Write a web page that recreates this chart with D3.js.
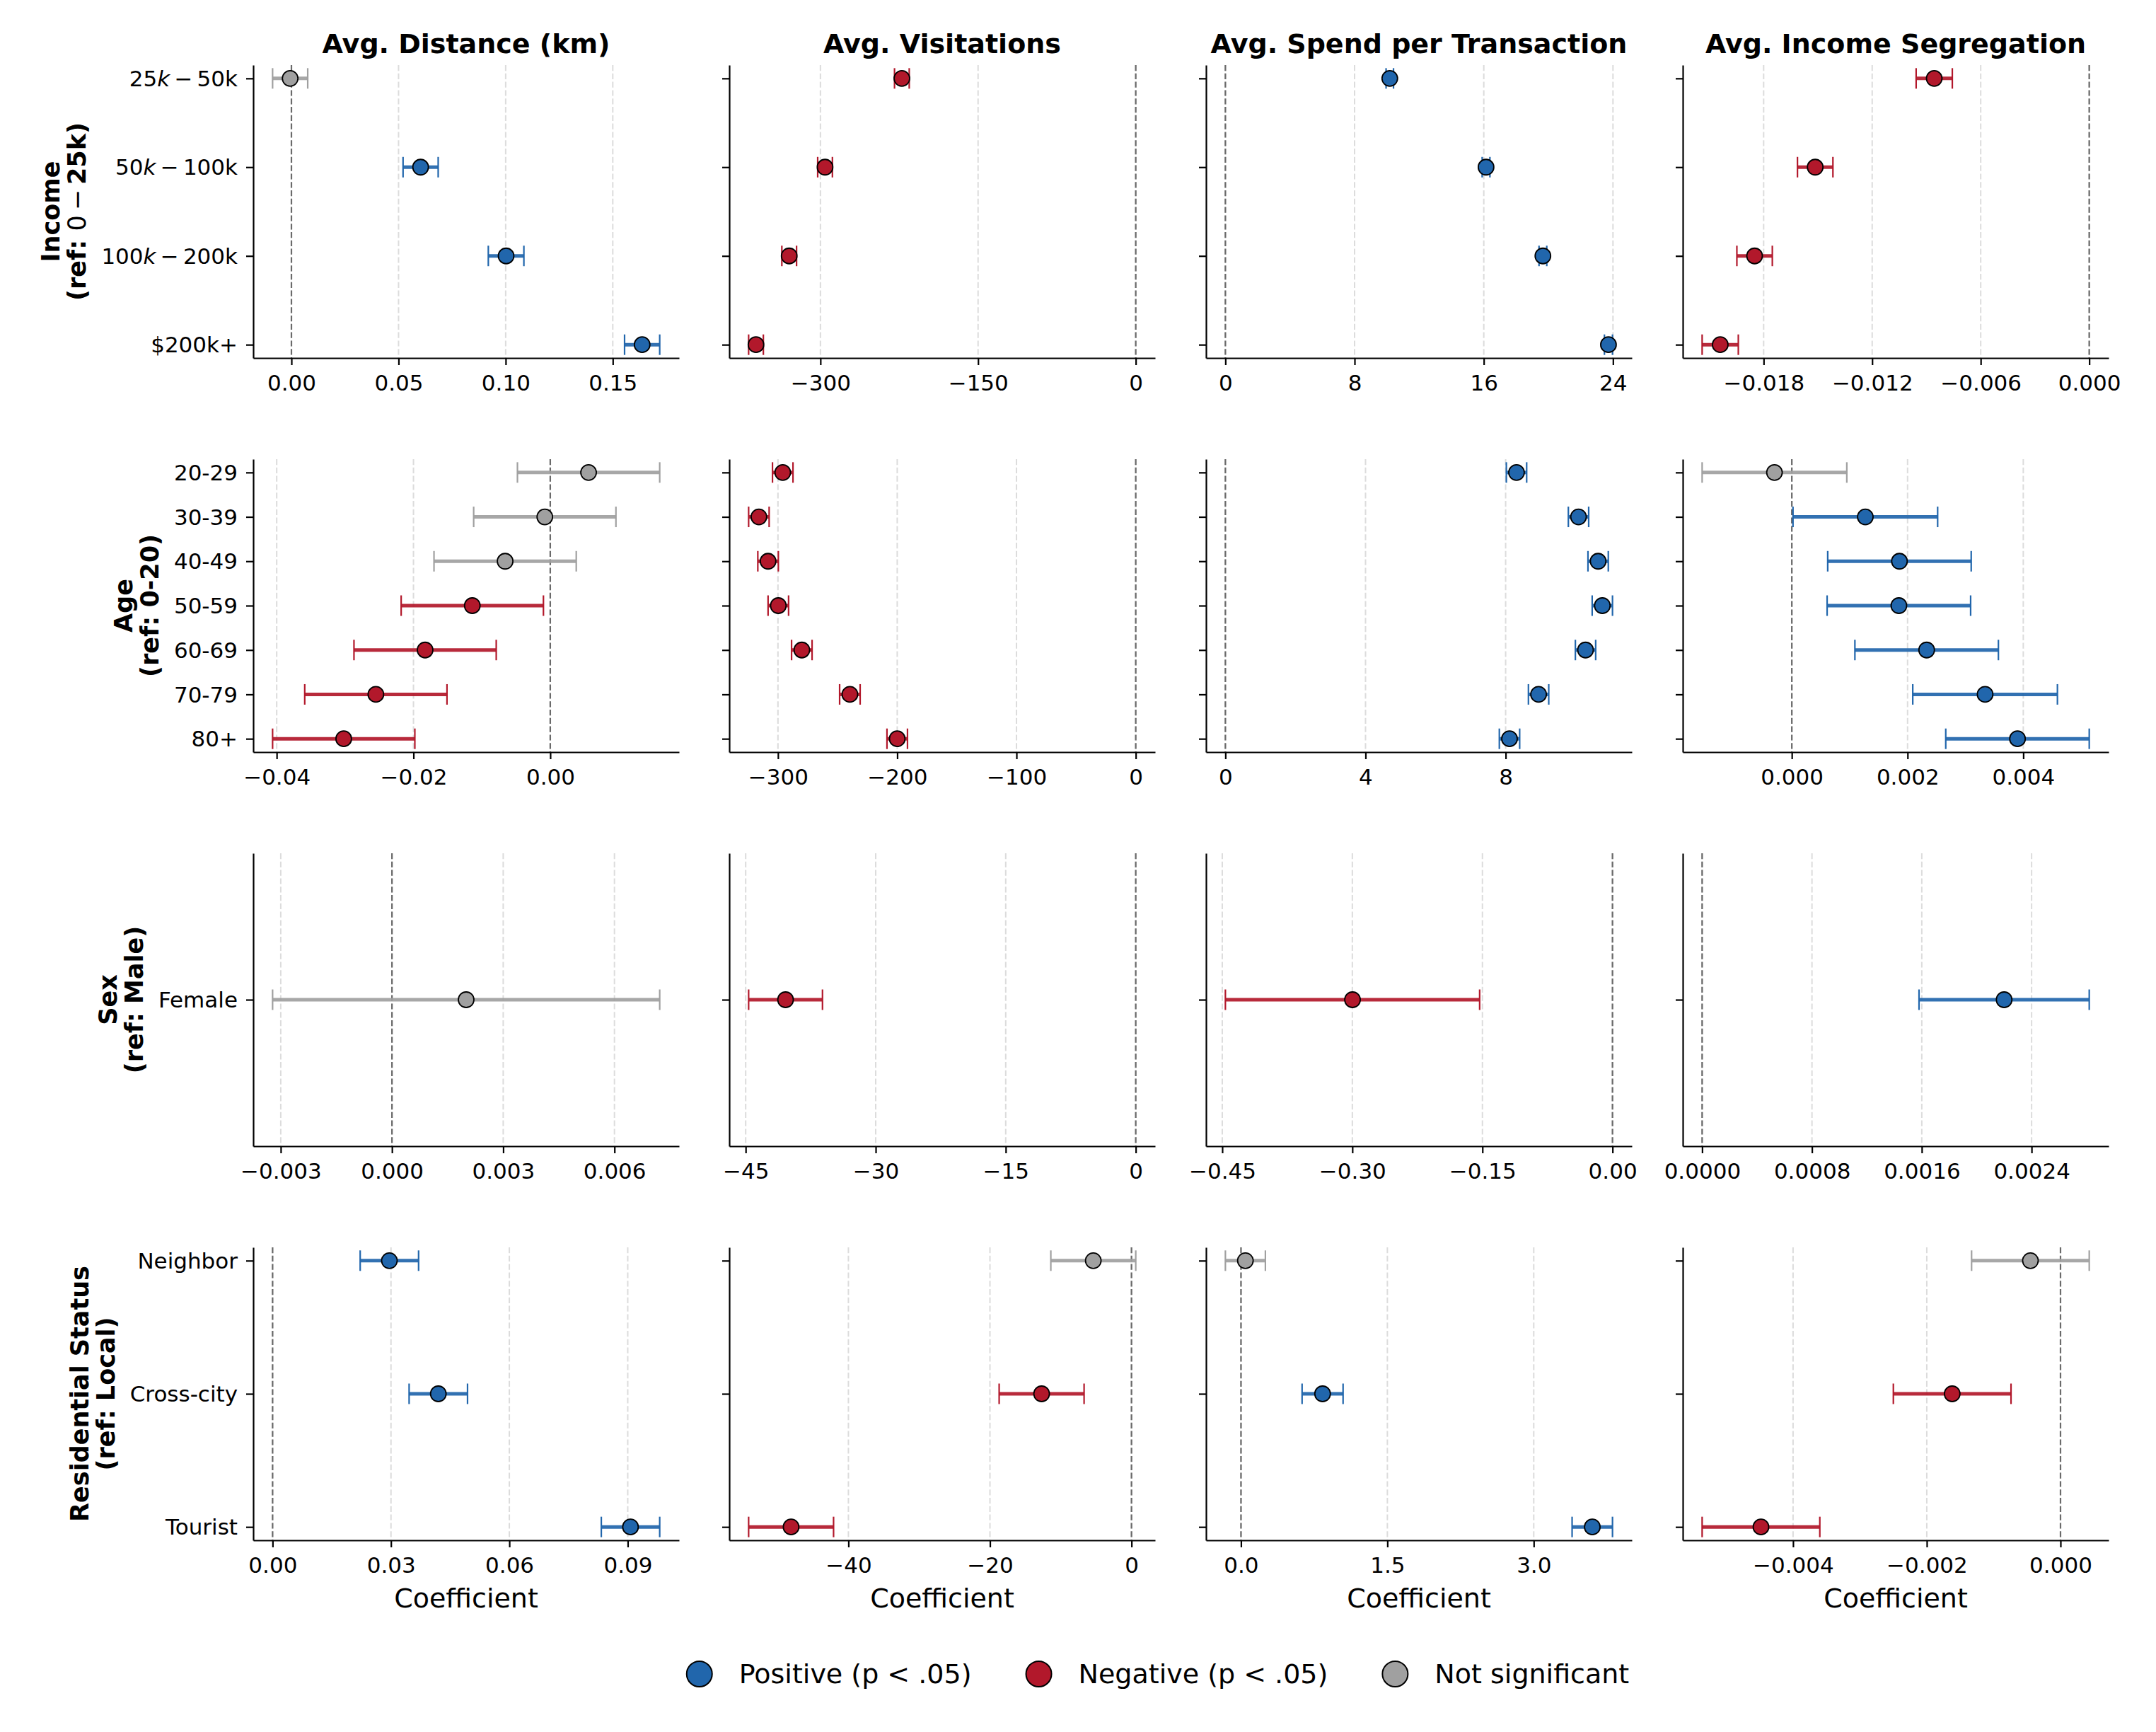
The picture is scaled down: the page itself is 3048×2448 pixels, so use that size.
<!DOCTYPE html>
<html><head><meta charset="utf-8">
<script src="https://cdn.jsdelivr.net/npm/d3@7"></script>
<style>
body{margin:0;background:#fff}
svg{display:block}
text{font-family:"DejaVu Sans",sans-serif;white-space:pre}
</style>
</head><body>
<svg id="c" width="3048" height="2448"></svg>
<script>
// ---------- DATA ----------
const outcomes = ["Avg. Distance (km)", "Avg. Visitations", "Avg. Spend per Transaction", "Avg. Income Segregation"];
const groupNames = ["Income\n(ref: $0-$25k)", "Age\n(ref: 0-20)", "Sex\n(ref: Male)", "Residential Status\n(ref: Local)"];

const incomeCats = ["$25k-$50k", "$50k-$100k", "$100k-$200k", "$200k+"];
const ageCats = ["20-29", "30-39", "40-49", "50-59", "60-69", "70-79", "80+"];
const sexCats = ["Female"];
const resCats = ["Neighbor", "Cross-city", "Tourist"];

// Avg. Distance (km)
const distIncomeCoef = [-0.0006, 0.0603, 0.1002, 0.1637];
const distIncomeCI   = [0.0082, 0.0082, 0.0083, 0.0082];
const distAgeCoef = [0.0056, -0.0008, -0.0066, -0.0114, -0.0183, -0.0255, -0.0302];
const distAgeCI   = [0.0104, 0.0104, 0.0104, 0.0104, 0.0104, 0.0104, 0.0104];
const distSexCoef = [0.0020];
const distSexCI   = [0.00522];
const distResCoef = [0.0296, 0.0420, 0.0907];
const distResCI   = [0.0074, 0.0074, 0.0074];

// Avg. Visitations
const visIncomeCoef = [-222.5, -295.6, -329.7, -361.3];
const visIncomeCI   = [7.0, 7.0, 7.0, 7.0];
const visAgeCoef = [-296.0, -316.0, -308.3, -299.7, -280.0, -239.7, -200.0];
const visAgeCI   = [8.6, 8.6, 8.6, 8.6, 8.6, 8.6, 8.6];
const visSexCoef = [-40.4];
const visSexCI   = [4.26];
const visResCoef = [-5.4, -12.7, -48.1];
const visResCI   = [6.0, 6.0, 6.0];

// Avg. Spend per Transaction
const spendIncomeCoef = [10.18, 16.14, 19.66, 23.72];
const spendIncomeCI   = [0.23, 0.24, 0.24, 0.25];
const spendAgeCoef = [8.31, 10.08, 10.64, 10.76, 10.28, 8.94, 8.11];
const spendAgeCI   = [0.29, 0.29, 0.29, 0.29, 0.29, 0.29, 0.29];
const spendSexCoef = [-0.2998];
const spendSexCI   = [0.1466];
const spendResCoef = [0.045, 0.836, 3.60];
const spendResCI   = [0.205, 0.21, 0.207];

// Avg. Income Segregation
const segIncomeCoef = [-0.00857, -0.01515, -0.0185, -0.0204];
const segIncomeCI   = [0.0010, 0.00098, 0.00098, 0.0010];
const segAgeCoef = [-0.0003, 0.00127, 0.00186, 0.00185, 0.00233, 0.00334, 0.0039];
const segAgeCI   = [0.00125, 0.00125, 0.00124, 0.00124, 0.00124, 0.00125, 0.00124];
const segSexCoef = [0.0022];
const segSexCI   = [0.00062];
const segResCoef = [-0.00045, -0.00162, -0.00448];
const segResCI   = [0.00088, 0.00088, 0.00088];

// Tick values (rows: income, age, sex, residential)
const distTicks  = [[0, 0.05, 0.10, 0.15], [-0.04, -0.02, 0], [-0.003, 0, 0.003, 0.006], [0, 0.03, 0.06, 0.09]];
const visTicks   = [[-300, -150, 0], [-300, -200, -100, 0], [-45, -30, -15, 0], [-40, -20, 0]];
const spendTicks = [[0, 8, 16, 24], [0, 4, 8], [-0.45, -0.30, -0.15, 0], [0, 1.5, 3.0]];
const segTicks   = [[-0.018, -0.012, -0.006, 0], [0, 0.002, 0.004], [0, 0.0008, 0.0016, 0.0024], [-0.004, -0.002, 0]];
const distFmt  = [".2f", ".2f", ".3f", ".2f"];
const visFmt   = ["d", "d", "d", "d"];
const spendFmt = ["d", "d", ".2f", ".1f"];
const segFmt   = [".3f", ".3f", ".4f", ".3f"];

const legendLabels = ["Positive (p < .05)", "Negative (p < .05)", "Not significant"];

// ---------- BUILD TABLES ----------
const groupCats = [incomeCats, ageCats, sexCats, resCats];
const coefTable = [
  [distIncomeCoef, visIncomeCoef, spendIncomeCoef, segIncomeCoef],
  [distAgeCoef, visAgeCoef, spendAgeCoef, segAgeCoef],
  [distSexCoef, visSexCoef, spendSexCoef, segSexCoef],
  [distResCoef, visResCoef, spendResCoef, segResCoef]
];
const ciTable = [
  [distIncomeCI, visIncomeCI, spendIncomeCI, segIncomeCI],
  [distAgeCI, visAgeCI, spendAgeCI, segAgeCI],
  [distSexCI, visSexCI, spendSexCI, segSexCI],
  [distResCI, visResCI, spendResCI, segResCI]
];
const tickTable = [distTicks, visTicks, spendTicks, segTicks];
const fmtTable = [distFmt, visFmt, spendFmt, segFmt];

// ---------- LAYOUT / STYLE ----------
const LEFT = [358, 1031, 1705, 2379], W = 602;
const TOP = [92, 649, 1206, 1763], H = 414;
const COLORS = {pos: "#2166ac", neg: "#b2182b", ns: "#a0a0a0"};
const legendColors = [COLORS.pos, COLORS.neg, COLORS.ns];
const FONT = '"DejaVu Sans", sans-serif';

const svg = d3.select("#c");
svg.append("rect").attr("width", 3048).attr("height", 2448).attr("fill", "#fff");

// mathtext-like rich text ($...$ pairs)
function addRich(t, str, mathWeight) {
  const parts = str.split("$");
  if (parts.length < 3 || parts.length % 2 === 0) { t.append("tspan").text(str); return; }
  parts.forEach((p, i) => {
    if (!p) return;
    if (i % 2 === 0) { t.append("tspan").text(p); return; }
    const re = /([A-Za-z]+)|(-)|([^A-Za-z-]+)/g; let m;
    while ((m = re.exec(p))) {
      if (m[1]) t.append("tspan").attr("font-style", "italic").attr("font-weight", mathWeight).text(m[1]);
      else if (m[2]) t.append("tspan").attr("font-weight", mathWeight).text("\u2009\u2212\u2009");
      else t.append("tspan").attr("font-weight", mathWeight).text(m[3]);
    }
  });
}

function sigColor(lo, hi) {
  if (lo > 0) return COLORS.pos;
  if (hi < 0) return COLORS.neg;
  return COLORS.ns;
}

groupCats.forEach((cats, gi) => {
  const y0 = TOP[gi];
  const n = cats.length;
  const m = n > 1 ? 0.05 * (n - 1) : 0.5;
  const y = d3.scaleLinear().domain([-m, n - 1 + m]).range([y0, y0 + H]);

  outcomes.forEach((title, oi) => {
    const x0 = LEFT[oi];
    const coefs = coefTable[gi][oi], cis = ciTable[gi][oi];
    const rows = cats.map((c, i) => ({i, coef: coefs[i], lo: coefs[i] - cis[i], hi: coefs[i] + cis[i]}));
    const ext = d3.extent(rows.flatMap(r => [r.lo, r.hi]).concat([0]));
    const pad = 0.05 * (ext[1] - ext[0]);
    const x = d3.scaleLinear().domain([ext[0] - pad, ext[1] + pad]).range([x0, x0 + W]);
    const ticks = tickTable[oi][gi];
    const g = svg.append("g");

    // grid
    g.selectAll("line.grid").data(ticks).join("line").attr("class", "grid")
      .attr("x1", d => x(d)).attr("x2", d => x(d)).attr("y1", y0).attr("y2", y0 + H)
      .attr("stroke", "#dcdcdc").attr("stroke-width", 2).attr("stroke-dasharray", "8.2,3.6");
    // zero line
    g.append("line").attr("x1", x(0)).attr("x2", x(0)).attr("y1", y0).attr("y2", y0 + H)
      .attr("stroke", "#6a6a6a").attr("stroke-width", 2.2).attr("stroke-dasharray", "8.2,3.6");

    // error bars
    g.selectAll("line.eb").data(rows).join("line").attr("class", "eb")
      .attr("x1", d => x(d.lo)).attr("x2", d => x(d.hi)).attr("y1", d => y(d.i)).attr("y2", d => y(d.i))
      .attr("stroke", d => sigColor(d.lo, d.hi)).attr("stroke-width", 5).attr("opacity", 0.92);
    ["lo", "hi"].forEach(k => {
      g.selectAll("line.cap" + k).data(rows).join("line").attr("class", "cap" + k)
        .attr("x1", d => x(d[k])).attr("x2", d => x(d[k])).attr("y1", d => y(d.i) - 14.5).attr("y2", d => y(d.i) + 14.5)
        .attr("stroke", d => sigColor(d.lo, d.hi)).attr("stroke-width", 2.2);
    });
    // markers
    g.selectAll("circle").data(rows).join("circle")
      .attr("cx", d => x(d.coef)).attr("cy", d => y(d.i)).attr("r", 11)
      .attr("fill", d => sigColor(d.lo, d.hi)).attr("stroke", "#000").attr("stroke-width", 1.8);

    // axes
    const ax = g.append("g").attr("transform", `translate(0,${y0 + H})`)
      .call(d3.axisBottom(x).tickValues(ticks).tickFormat(d3.format(fmtTable[oi][gi])).tickSize(10).tickSizeOuter(0).tickPadding(14));
    ax.attr("font-size", 31).attr("font-family", FONT);
    ax.select(".domain").attr("stroke", "#000").attr("stroke-width", 2.2);
    ax.selectAll(".tick line").attr("stroke", "#000").attr("stroke-width", 2.2);
    ax.selectAll(".tick text").attr("fill", "#000");

    const ay = g.append("g").attr("transform", `translate(${x0},0)`)
      .call(d3.axisLeft(y).tickValues(d3.range(n)).tickFormat("").tickSize(10).tickSizeOuter(0));
    ay.select(".domain").attr("stroke", "#000").attr("stroke-width", 2.2);
    ay.selectAll(".tick line").attr("stroke", "#000").attr("stroke-width", 2.2);

    // title
    if (gi === 0) {
      g.append("text").attr("x", x0 + W / 2).attr("y", y0 - 17).attr("text-anchor", "middle")
        .attr("font-size", 38).attr("font-weight", "bold").text(title);
    }
    // x label
    if (gi === groupCats.length - 1) {
      g.append("text").attr("x", x0 + W / 2).attr("y", y0 + H + 95).attr("text-anchor", "middle")
        .attr("font-size", 38).text("Coefficient");
    }
    // y tick labels + group label
    if (oi === 0) {
      let minX = Infinity;
      cats.forEach((c, i) => {
        const t = g.append("text").attr("x", x0 - 22).attr("y", y(i)).attr("dy", "0.36em")
          .attr("text-anchor", "end").attr("font-size", 31);
        addRich(t, c, "normal");
        minX = Math.min(minX, t.node().getBBox().x);
      });
      const lines = groupNames[gi].split("\n");
      const b2 = minX - 22, b1 = b2 - 37;
      const lab = g.append("text").attr("transform", `translate(0,${y0 + H / 2}) rotate(-90)`)
        .attr("text-anchor", "middle").attr("font-size", 35).attr("font-weight", "bold");
      const t1 = lab.append("tspan").attr("x", 0).attr("y", b1);
      addRich(t1, lines[0], "normal");
      const t2 = lab.append("tspan").attr("x", 0).attr("y", b2);
      addRich(t2, lines[1], "normal");
    }
  });
});

// legend
const leg = svg.append("g");
let cx = 0;
const items = [];
legendLabels.forEach((lbl, i) => {
  const t = leg.append("text").attr("x", cx + 56).attr("y", 2379).attr("font-size", 38).text(lbl);
  const w = t.node().getComputedTextLength();
  leg.append("circle").attr("cx", cx).attr("cy", 2366).attr("r", 18)
    .attr("fill", legendColors[i]).attr("stroke", "#000").attr("stroke-width", 2);
  items.push(cx);
  cx = cx + 56 + w + 95;
});
const totalRight = cx - 95;
const totalW = totalRight + 18;
leg.attr("transform", `translate(${1637 - totalW / 2 + 18},0)`);
</script>
</body></html>
